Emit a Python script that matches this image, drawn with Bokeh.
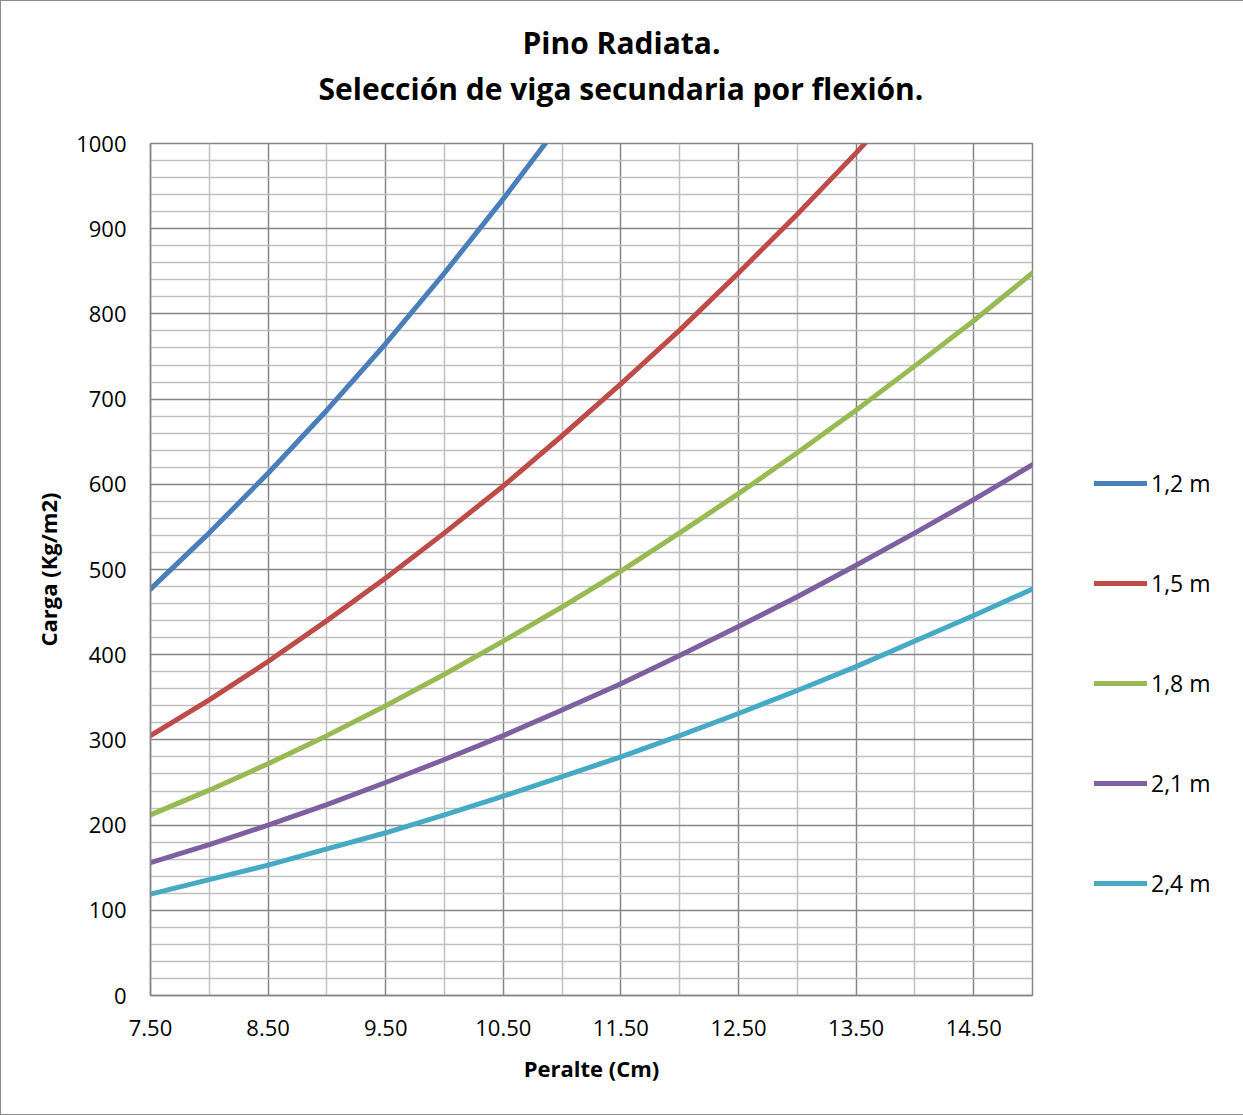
from bokeh.plotting import figure
from bokeh.models import FixedTicker, Legend, LegendItem, Title, NumeralTickFormatter, Range1d
from bokeh.embed import file_html
from bokeh.resources import INLINE

# ---- data ----
peralte = [7.5, 8.0, 8.5, 9.0, 9.5, 10.0, 10.5, 11.0, 11.5, 12.0, 12.5, 13.0, 13.5, 14.0, 14.5, 15.0]
carga_1_2 = [477, 543, 613, 687, 765, 848, 935, 1026, 1121, 1221, 1325, 1433, 1545, 1662, 1783, 1908]
carga_1_5 = [305, 347, 392, 440, 490, 543, 598, 657, 718, 781, 848, 917, 989, 1064, 1141, 1221]
carga_1_8 = [212, 241, 272, 305, 340, 377, 416, 456, 498, 543, 589, 637, 687, 739, 792, 848]
carga_2_1 = [156, 177, 200, 224, 250, 277, 305, 335, 366, 399, 433, 468, 505, 543, 582, 623]
carga_2_4 = [119, 136, 153, 172, 191, 212, 234, 257, 280, 305, 331, 358, 386, 416, 446, 477]
series_names = ["1,2 m", "1,5 m", "1,8 m", "2,1 m", "2,4 m"]
series_colors = ["#4A7EBB", "#BE4B48", "#98B954", "#7D60A0", "#46AAC5"]

x_ticks = [7.5, 8.5, 9.5, 10.5, 11.5, 12.5, 13.5, 14.5]
x_minor = [8.0, 9.0, 10.0, 11.0, 12.0, 13.0, 14.0, 15.0]
y_ticks = [0, 100, 200, 300, 400, 500, 600, 700, 800, 900, 1000]
y_minor = [v for v in range(0, 1001, 20) if v % 100]

title_lines = ["Pino Radiata.", "Selección de viga secundaria por flexión."]

FONT = "Open Sans"

p = figure(frame_width=882, frame_height=852, x_range=Range1d(7.5, 15.0), y_range=Range1d(0, 1000),
           output_backend="svg", toolbar_location=None,
           min_border_left=149, min_border_right=210, min_border_top=142, min_border_bottom=119)
p.styles = {"border": "1px solid #8c8c8c"}

p.outline_line_color = "#868686"
p.outline_line_width = 1.5

p.xaxis.ticker = FixedTicker(ticks=x_ticks, minor_ticks=x_minor)
p.yaxis.ticker = FixedTicker(ticks=y_ticks, minor_ticks=y_minor)
p.xaxis.formatter = NumeralTickFormatter(format="0.00")

for g in (p.xgrid, p.ygrid):
    g.grid_line_color = "#868686"
    g.grid_line_width = 1.5
    g.minor_grid_line_color = "#c0c0c0"
    g.minor_grid_line_width = 1.5

for ax in (p.xaxis, p.yaxis):
    ax.axis_line_color = "#868686"
    ax.axis_line_width = 1.5
    ax.major_tick_line_color = None
    ax.minor_tick_line_color = None
    ax.major_label_text_font = FONT
    ax.major_label_text_font_size = "22px"
    ax.major_label_text_color = "black"
    ax.axis_label_text_font = FONT
    ax.axis_label_text_font_style = "bold"
    ax.axis_label_text_font_size = "22px"
    ax.axis_label_text_color = "black"

p.xaxis.axis_label = "Peralte (Cm)"
p.yaxis.axis_label = "Carga (Kg/m2)"
p.xaxis.major_label_standoff = 18
p.yaxis.major_label_standoff = 18
p.xaxis.axis_label_standoff = 14
p.yaxis.axis_label_standoff = 10

series = [carga_1_2, carga_1_5, carga_1_8, carga_2_1, carga_2_4]
items = []
for name, vals, col in zip(series_names, series, series_colors):
    r = p.line(peralte, vals, line_color=col, line_width=5, line_cap="round", line_join="round")
    items.append(LegendItem(label=name, renderers=[r]))

legend = Legend(items=items, location=(62, 96), orientation="vertical",
                border_line_color=None, background_fill_alpha=0, padding=0, margin=0,
                spacing=68, glyph_width=53, glyph_height=22, label_height=22, label_standoff=4,
                label_text_font=FONT, label_text_font_size="23px", label_text_color="black")
p.add_layout(legend, "right")

spacer = Title(text=" ", text_font_size="1px", standoff=30)
t2 = Title(text=title_lines[1], align="left", offset=168, standoff=3,
           text_font=FONT, text_font_style="bold", text_font_size="30px", text_color="black")
t1 = Title(text=title_lines[0], align="left", offset=372, standoff=3,
           text_font=FONT, text_font_style="bold", text_font_size="30px", text_color="black")
p.add_layout(spacer, "above")
p.add_layout(t2, "above")
p.add_layout(t1, "above")

open("out.html", "w").write(file_html(p, INLINE))
